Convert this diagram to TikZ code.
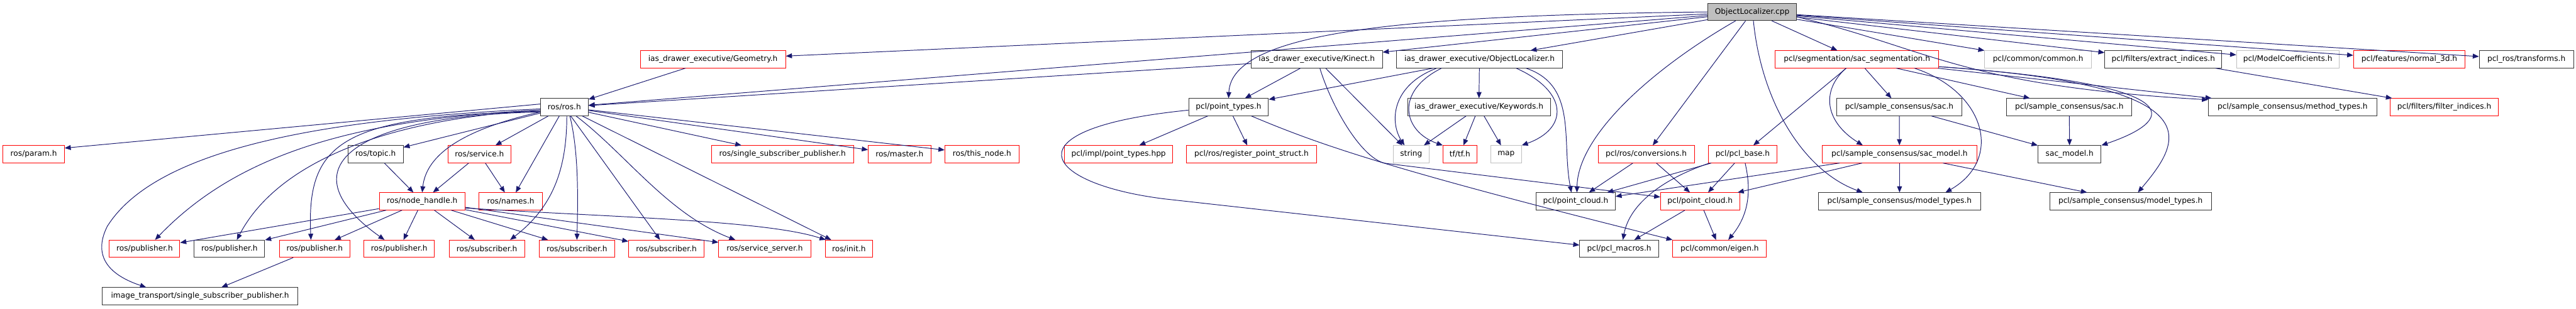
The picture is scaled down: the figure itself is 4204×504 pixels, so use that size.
\documentclass[tikz,border=0pt]{standalone}
\usepackage{fontspec}
\setmainfont{DejaVu Sans}
\usetikzlibrary{arrows.meta}
\definecolor{edgeblue}{HTML}{191970}
\definecolor{hdrgray}{HTML}{BFBFBF}

\begin{document}
\begin{tikzpicture}[x=1pt, y=-1pt,
  font=\fontsize{12.5}{14}\selectfont,
  hdr/.style={draw=black!80, line width=1pt, minimum height=28pt, inner sep=0pt},
  hdrred/.style={hdr, draw=red},
  hdrgray/.style={hdr, draw=hdrgray},
  inc/.style={-{Triangle[length=10pt, width=8pt]}, line width=1pt, draw=edgeblue},
]
  \path[fill=white, use as bounding box] (0,0) rectangle (4204,504);

  \node[hdr, fill=hdrgray, minimum width=145pt] (root) at (2859.5,19.5) {ObjectLocalizer.cpp};

  \node[hdrred, minimum width=237pt] (geom) at (1163.5,97) {ias\_drawer\_executive/Geometry.h};
  \node[hdr, minimum width=214pt] (kinect) at (2149,97) {ias\_drawer\_executive/Kinect.h};
  \node[hdr, minimum width=271pt] (olh) at (2414.5,97) {ias\_drawer\_executive/ObjectLocalizer.h};
  \node[hdrred, minimum width=267pt] (sacseg) at (3030.5,97) {pcl/segmentation/sac\_segmentation.h};
  \node[hdrgray, minimum width=174pt] (common) at (3326,97) {pcl/common/common.h};
  \node[hdr, minimum width=191pt] (extract) at (3530.5,97) {pcl/filters/extract\_indices.h};
  \node[hdrgray, minimum width=167pt] (modelcoef) at (3733.5,97) {pcl/ModelCoefficients.h};
  \node[hdrred, minimum width=182pt] (normal) at (3932,97) {pcl/features/normal\_3d.h};
  \node[hdr, minimum width=154pt] (transforms) at (4123,97) {pcl\_ros/transforms.h};

  \node[hdr, minimum width=78pt] (rosh) at (921,175) {ros/ros.h};
  \node[hdr, minimum width=130pt] (ptypes) at (2005,175) {pcl/point\_types.h};
  \node[hdr, minimum width=233pt] (keywords) at (2413.5,175) {ias\_drawer\_executive/Keywords.h};
  \node[hdr, minimum width=205pt] (sac1) at (3099.5,175) {pcl/sample\_consensus/sac.h};
  \node[hdr, minimum width=204pt] (sac2) at (3377,175) {pcl/sample\_consensus/sac.h};
  \node[hdr, minimum width=275pt] (method) at (3741.5,175) {pcl/sample\_consensus/method\_types.h};
  \node[hdrred, minimum width=176pt] (filterind) at (3989,175) {pcl/filters/filter\_indices.h};

  \node[hdrred, minimum width=100pt] (param) at (55,252) {ros/param.h};
  \node[hdr, minimum width=90pt] (topic) at (613,252) {ros/topic.h};
  \node[hdrred, minimum width=103pt] (service) at (782.5,252) {ros/service.h};
  \node[hdrred, minimum width=232pt] (sspub) at (1277,252) {ros/single\_subscriber\_publisher.h};
  \node[hdrred, minimum width=102pt] (master) at (1468,252) {ros/master.h};
  \node[hdrred, minimum width=121pt] (thisnode) at (1602.5,252) {ros/this\_node.h};
  \node[hdrred, minimum width=177pt] (impl) at (1825.5,252) {pcl/impl/point\_types.hpp};
  \node[hdrred, minimum width=213pt] (regstruct) at (2042.5,252) {pcl/ros/register\_point\_struct.h};
  \node[hdrgray, minimum width=58pt] (string) at (2303,252) {string};
  \node[hdrred, minimum width=55pt] (tf) at (2382.5,252) {tf/tf.h};
  \node[hdrgray, minimum width=50pt] (map) at (2458,252) {map};
  \node[hdrred, minimum width=157pt] (conv) at (2686.5,252) {pcl/ros/conversions.h};
  \node[hdrred, minimum width=112pt] (pclbase) at (2844,252) {pcl/pcl\_base.h};
  \node[hdrred, minimum width=252pt] (sacmodelr) at (3100,252) {pcl/sample\_consensus/sac\_model.h};
  \node[hdr, minimum width=103pt] (sacmodel) at (3377.5,252) {sac\_model.h};

  \node[hdrred, minimum width=140pt] (nh) at (689,329) {ros/node\_handle.h};
  \node[hdrred, minimum width=103pt] (names) at (833.5,329) {ros/names.h};
  \node[hdr, minimum width=129pt] (pcb) at (2571.5,329) {pcl/point\_cloud.h};
  \node[hdrred, minimum width=129pt] (pcr) at (2774.5,329) {pcl/point\_cloud.h};
  \node[hdr, minimum width=264pt] (mt1) at (3100,329) {pcl/sample\_consensus/model\_types.h};
  \node[hdr, minimum width=264pt] (mt2) at (3477,329) {pcl/sample\_consensus/model\_types.h};

  \node[hdrred, minimum width=115pt] (pub1) at (236,406.5) {ros/publisher.h};
  \node[hdr, minimum width=115pt] (pub2) at (374.5,406.5) {ros/publisher.h};
  \node[hdrred, minimum width=115pt] (pub3) at (513.5,406.5) {ros/publisher.h};
  \node[hdrred, minimum width=115pt] (pub4) at (651.5,406.5) {ros/publisher.h};
  \node[hdrred, minimum width=123pt] (sub1) at (794.5,406.5) {ros/subscriber.h};
  \node[hdrred, minimum width=123pt] (sub2) at (941.5,406.5) {ros/subscriber.h};
  \node[hdrred, minimum width=123pt] (sub3) at (1087.5,406.5) {ros/subscriber.h};
  \node[hdrred, minimum width=150pt] (srvserver) at (1248,406.5) {ros/service\_server.h};
  \node[hdrred, minimum width=77pt] (init) at (1385.5,406.5) {ros/init.h};
  \node[hdr, minimum width=129pt] (macros) at (2642.5,406.5) {pcl/pcl\_macros.h};
  \node[hdrred, minimum width=153pt] (eigen) at (2806.5,406.5) {pcl/common/eigen.h};

  \node[hdr, minimum width=319pt] (itssp) at (326.5,484) {image\_transport/single\_subscriber\_publisher.h};

  % includes of the source file
  \draw[inc] (root) -- (geom);
  \draw[inc] (root) -- (rosh);
  \draw[inc] (root.west) .. controls (2300,25) and (2010,50) .. (ptypes.north);
  \draw[inc] (root) -- (kinect);
  \draw[inc] (root) -- (olh);
  \draw[inc] ([xshift=-27pt]root.south) .. controls (2700,110) and (2575,220) .. ([xshift=2pt]pcb.north);
  \draw[inc] (root) -- (conv);
  \draw[inc] ([xshift=2pt]root.south) .. controls (2875,170) and (2945,280) .. ([xshift=-60pt]mt1.north);
  \draw[inc] (root) -- (sacseg);
  \draw[inc] (root) -- (common);
  \draw[inc] (root) -- (extract);
  \draw[inc] (root) -- (modelcoef);
  \draw[inc] (root) -- (normal);
  \draw[inc] (root) -- (transforms);
  \draw[inc] ([yshift=-8pt]root.east) .. controls (3150,80) and (3200,140) .. ([yshift=12pt]method.west);

  \draw[inc] (geom) -- (rosh);
  \draw[inc] (kinect) -- (rosh);
  \draw[inc] (kinect) -- (ptypes);
  \draw[inc] ([xshift=5pt]kinect.south) .. controls (2175,180) and (2225,262) .. (2262,267) -- ([yshift=7pt]pcr.west);
  \draw[inc] (kinect) -- (string);
  \draw[inc] (olh) -- (ptypes);
  \draw[inc] ([xshift=-70pt]olh.south) .. controls (2270,140) and (2268,200) .. ([xshift=-11pt]string.north);
  \draw[inc] ([xshift=-62pt]olh.south) .. controls (2275,150) and (2290,215) .. (tf.north west);
  \draw[inc] (olh) -- (keywords);
  \draw[inc] ([xshift=60pt]olh.south) .. controls (2560,150) and (2560,210) .. (map.north east);
  \draw[inc] ([xshift=76pt]olh.south) .. controls (2575,140) and (2548,230) .. ([xshift=-7pt]pcb.north);
  \draw[inc] (keywords) -- (string);
  \draw[inc] (keywords) -- (tf);
  \draw[inc] (keywords) -- (map);

  \draw[inc] (ptypes) -- (impl);
  \draw[inc] (ptypes) -- (regstruct);
  \draw[inc] ([xshift=37pt]ptypes.south) .. controls (2150,235) and (2260,275) .. (eigen.north west);
  \draw[inc] ([yshift=-5pt]ptypes.west) .. controls (1640,210) and (1700,300) .. (1900,325) -- ([yshift=6pt]macros.west);
  \draw[inc] (conv) -- (pcb);
  \draw[inc] (conv) -- (pcr);
  \draw[inc] (pclbase) -- (pcb);
  \draw[inc] (pclbase) -- (pcr);
  \draw[inc] ([xshift=-54pt]pclbase.south) .. controls (2720,290) and (2660,330) .. ([xshift=6pt]macros.north);
  \draw[inc] ([xshift=4pt]pclbase.south) .. controls (2858,310) and (2855,350) .. ([xshift=14pt]eigen.north);

  \draw[inc] (sacseg) -- (pclbase);
  \draw[inc] ([xshift=-18pt]sacseg.south) .. controls (2970,150) and (2980,200) .. ([xshift=-60pt]sacmodelr.north);
  \draw[inc] (sacseg) -- (sac1);
  \draw[inc] (sacseg) -- (sac2);
  \draw[inc] ([xshift=94pt]sacseg.south) .. controls (3240,150) and (3270,260) .. ([xshift=75pt]mt1.north);
  \draw[inc] (sacseg) -- (method);
  \draw[inc] ([yshift=-12pt]sacseg.east) .. controls (3600,140) and (3540,200) .. (sacmodel.north east);
  \draw[inc] ([yshift=-12pt]sacseg.east) .. controls (3620,140) and (3560,230) .. ([xshift=12pt]mt2.north);
  \draw[inc] (sac1) -- (sacmodelr);
  \draw[inc] (sac1) -- (sacmodel);
  \draw[inc] (sac2) -- (sacmodel);
  \draw[inc] (sacmodelr) -- (pcr);
  \draw[inc] ([xshift=-98pt]sacmodelr.south) -- ([yshift=8pt]pcb.east);
  \draw[inc] (sacmodelr) -- (mt1);
  \draw[inc] (sacmodelr) -- (mt2);
  \draw[inc] (pcr) -- (macros);
  \draw[inc] (pcr) -- (eigen);
  \draw[inc] (extract) -- (filterind);

  % ros headers
  \draw[inc] ([yshift=5pt]rosh.west) -- ([yshift=10pt]param.east);
  \draw[inc] (rosh) -- (topic);
  \draw[inc] (rosh) -- (service);
  \draw[inc] ([yshift=-8pt]rosh.west) .. controls (740,215) and (695,260) .. (nh.north);
  \draw[inc] (rosh) -- (names);
  \draw[inc] (rosh) -- (sspub);
  \draw[inc] (rosh) -- (master);
  \draw[inc] (rosh) -- (thisnode);
  \draw[inc] ([xshift=4pt]rosh.south) .. controls (925,280) and (900,340) .. ([xshift=38pt]sub1.north);
  \draw[inc] ([xshift=9pt]rosh.south) .. controls (945,250) and (943,330) .. (sub2.north);
  \draw[inc] (rosh) -- (sub3);
  \draw[inc] ([xshift=19pt]rosh.south) .. controls (1020,250) and (1090,350) .. ([xshift=-48pt]srvserver.north);
  \draw[inc] (rosh) -- (init);
  \draw[inc] ([yshift=-5pt]rosh.west) .. controls (560,195) and (380,260) .. ([xshift=17pt]pub1.north);
  \draw[inc] ([yshift=-5pt]rosh.west) .. controls (620,195) and (450,270) .. ([xshift=12pt]pub2.north);
  \draw[inc] ([yshift=-7pt]rosh.west) .. controls (560,190) and (500,230) .. ([xshift=-6pt]pub3.north);
  \draw[inc] ([yshift=-8pt]rosh.west) .. controls (560,190) and (470,280) .. ([xshift=-24pt]pub4.north);
  \draw[inc] ([yshift=-3pt]rosh.west) .. controls (500,195) and (250,250) .. (175,370)
    .. controls (150,420) and (180,450) .. ([xshift=-88pt]itssp.north);

  \draw[inc] (nh) -- (pub1);
  \draw[inc] (nh) -- (pub2);
  \draw[inc] (nh) -- (pub3);
  \draw[inc] (nh) -- (pub4);
  \draw[inc] (nh) -- (sub1);
  \draw[inc] (nh) -- (sub2);
  \draw[inc] (nh) -- (sub3);
  \draw[inc] (nh) -- (srvserver);
  \draw[inc] ([yshift=-11pt]nh.east) .. controls (1000,355) and (1250,360) .. ([xshift=-38pt]init.north);
  \draw[inc] (topic) -- (nh);
  \draw[inc] (service) -- (nh);
  \draw[inc] (service) -- (names);
  \draw[inc] (pub3) -- (itssp);
\end{tikzpicture}
\end{document}
